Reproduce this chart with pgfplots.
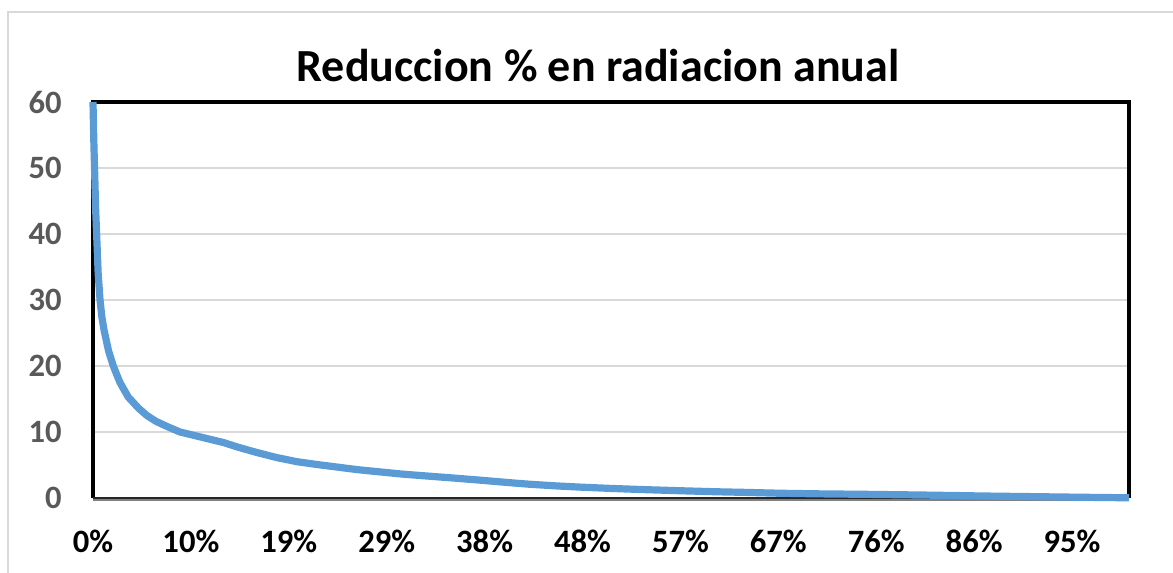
\documentclass[border=0pt]{standalone}
\usepackage{pgfplots}
\pgfplotsset{compat=1.18}
\usepackage{fontspec}
\setmainfont{Carlito}
\definecolor{exblue}{HTML}{5B9BD5}
\definecolor{gridgray}{HTML}{D9D9D9}
\definecolor{labgray}{HTML}{595959}
\begin{document}
\begin{tikzpicture}
\useasboundingbox (0,0) rectangle (586.5bp,286.5bp);
\draw[gridgray, line width=1bp] (4bp,-2bp) -- (4bp,280.5bp) -- (590bp,280.5bp);
\node[anchor=base, font=\fontsize{23bp}{27bp}\selectfont\bfseries] at (299bp,245.5bp) {Reduccion \% en radiacion anual};
\begin{axis}[
  at={(46.5bp,37.5bp)}, anchor=south west,
  scale only axis, width=518bp, height=198bp,
  xmin=0, xmax=100, ymin=0, ymax=60,
  clip=false,
  axis line style={draw=none},
  major tick length=0pt,
  ytick={0,10,...,60},
  xtick={0,9.45,18.9,28.35,37.8,47.25,56.7,66.15,75.6,85.05,94.5},
  xticklabels={0\%,10\%,19\%,29\%,38\%,48\%,57\%,67\%,76\%,86\%,95\%},
  ymajorgrids, grid style={gridgray, line width=1bp},
  yticklabel style={anchor=east, inner sep=0pt, xshift=-15.5bp, text=labgray, font=\fontsize{16.3bp}{19bp}\selectfont\bfseries},
  xticklabel style={anchor=base, inner sep=0pt, yshift=-27bp, text=black, font=\fontsize{16.3bp}{19bp}\selectfont\bfseries},
  /pgf/number format/assume math mode=true,
]
\draw[black, line width=2bp] (rel axis cs:0,0) -- (rel axis cs:0,1) -- (rel axis cs:1,1) -- (rel axis cs:1,0);
\draw[gray, line width=1bp] ([yshift=-1bp]rel axis cs:0,0) -- ([yshift=-1bp]rel axis cs:1,0);
\draw[black!85, line width=1bp] (rel axis cs:0,0) -- (rel axis cs:1,0);
\addplot[exblue, line width=3.6bp, line join=round, no marks] coordinates {
(0,60) (0.08,54) (0.15,50) (0.25,44) (0.35,40) (0.5,34) (0.68,30) (0.85,27.5)
(1.06,25.5) (1.5,22.3) (1.96,20) (2.6,17.5) (3.4,15.3) (4.4,13.6) (5.2,12.5)
(6.1,11.6) (7.2,10.8) (8.4,10.0) (10.5,9.2) (12.6,8.4) (14.0,7.7) (15.8,6.9)
(17.8,6.1) (19.7,5.5) (21.5,5.1) (23.5,4.7) (25.5,4.3) (27.4,4.0) (30,3.6)
(32.5,3.3) (35,3.0) (37.4,2.7) (40,2.35) (42,2.1) (44.5,1.85) (47,1.65) (50,1.45)
(53,1.28) (56.7,1.1) (60,0.95) (63,0.85) (66.3,0.72) (70,0.63) (75,0.55)
(80,0.45) (83,0.38) (86,0.3) (90,0.22) (95,0.12) (100,0.03)
};
\end{axis}
\end{tikzpicture}
\end{document}
